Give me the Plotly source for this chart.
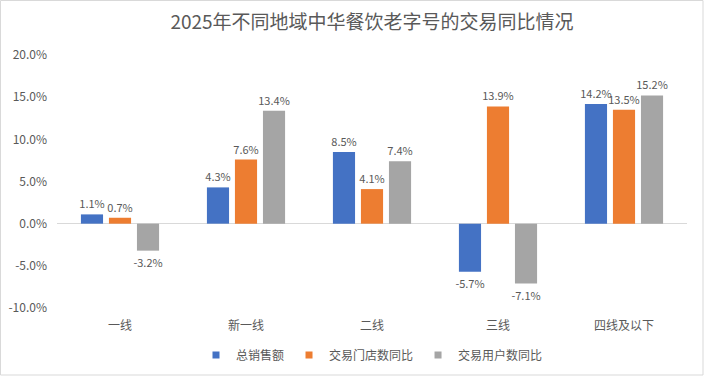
import plotly.graph_objects as go

categories = ["一线", "新一线", "二线", "三线", "四线及以下"]
series_names = ["总销售额", "交易门店数同比", "交易用户数同比"]
sales = [1.1, 4.3, 8.5, -5.7, 14.2]
stores = [0.7, 7.6, 4.1, 13.9, 13.5]
users = [-3.2, 13.4, 7.4, -7.1, 15.2]
tick_vals = [-10, -5, 0, 5, 10, 15, 20]
tick_text = ["-10.0%", "-5.0%", "0.0%", "5.0%", "10.0%", "15.0%", "20.0%"]

colors = ["#4472C4", "#ED7D31", "#A5A5A5"]
FONT = "Noto Sans CJK SC, Microsoft YaHei, sans-serif"

fig = go.Figure()
for name, vals, c in zip(series_names, [sales, stores, users], colors):
    fig.add_trace(go.Bar(
        x=categories, y=vals, name=name, marker=dict(color=c, line=dict(width=0)),
        text=[f"{v:.1f}%" for v in vals], textposition="outside", constraintext="none",
        textfont=dict(size=11, color="#595959", family=FONT),
        cliponaxis=False, showlegend=False,
    ))
# legend entries with small square markers
for name, c in zip(series_names, colors):
    fig.add_trace(go.Scatter(
        x=[None], y=[None], mode="markers", name=name,
        marker=dict(symbol="square", size=7, color=c), showlegend=True,
    ))

L, R, T, B = 57, 17, 55, 68
W, H = 704, 376
pw, ph = W - L - R, H - T - B

fig.update_layout(
    width=W, height=H,
    margin=dict(l=L, r=R, t=T, b=B, autoexpand=False),
    paper_bgcolor="white", plot_bgcolor="white",
    font=dict(family=FONT, color="#595959", size=12),
    title=dict(text="2025年不同地域中华餐饮老字号的交易同比情况", x=0.5, xanchor="center",
               xref="paper", y=1 - 22 / H, yanchor="middle",
               font=dict(size=19, color="#595959", family=FONT)),
    barmode="group", bargap=0.333, bargroupgap=0.21,
    showlegend=True,
    legend=dict(orientation="h", x=0.5, xanchor="center", yref="container",
                y=1 - 355 / H, yanchor="middle",
                font=dict(size=12, color="#595959", family=FONT), itemwidth=30,
                traceorder="normal"),
    xaxis=dict(showgrid=False, showline=False, ticks="", automargin=False,
               ticklabelstandoff=9, tickfont=dict(size=12, color="#595959")),
    yaxis=dict(range=[-10, 20], tickvals=tick_vals, ticktext=tick_text, showgrid=False,
               zeroline=True, zerolinecolor="#D9D9D9", zerolinewidth=1, showline=False,
               automargin=False, ticklabelstandoff=9,
               tickfont=dict(size=12, color="#595959"), ticks=""),
    shapes=[dict(type="rect", xref="paper", yref="paper",
                 x0=(-L + 0.5) / pw, x1=(pw + R - 1) / pw,
                 y0=(-B + 1) / ph, y1=(ph + T - 0.5) / ph,
                 line=dict(color="#D9D9D9", width=1), fillcolor="rgba(0,0,0,0)")],
)

fig.write_html("out.html", config={"displayModeBar": False},
               post_script="document.body.style.margin='0px';document.body.style.padding='0px';")
